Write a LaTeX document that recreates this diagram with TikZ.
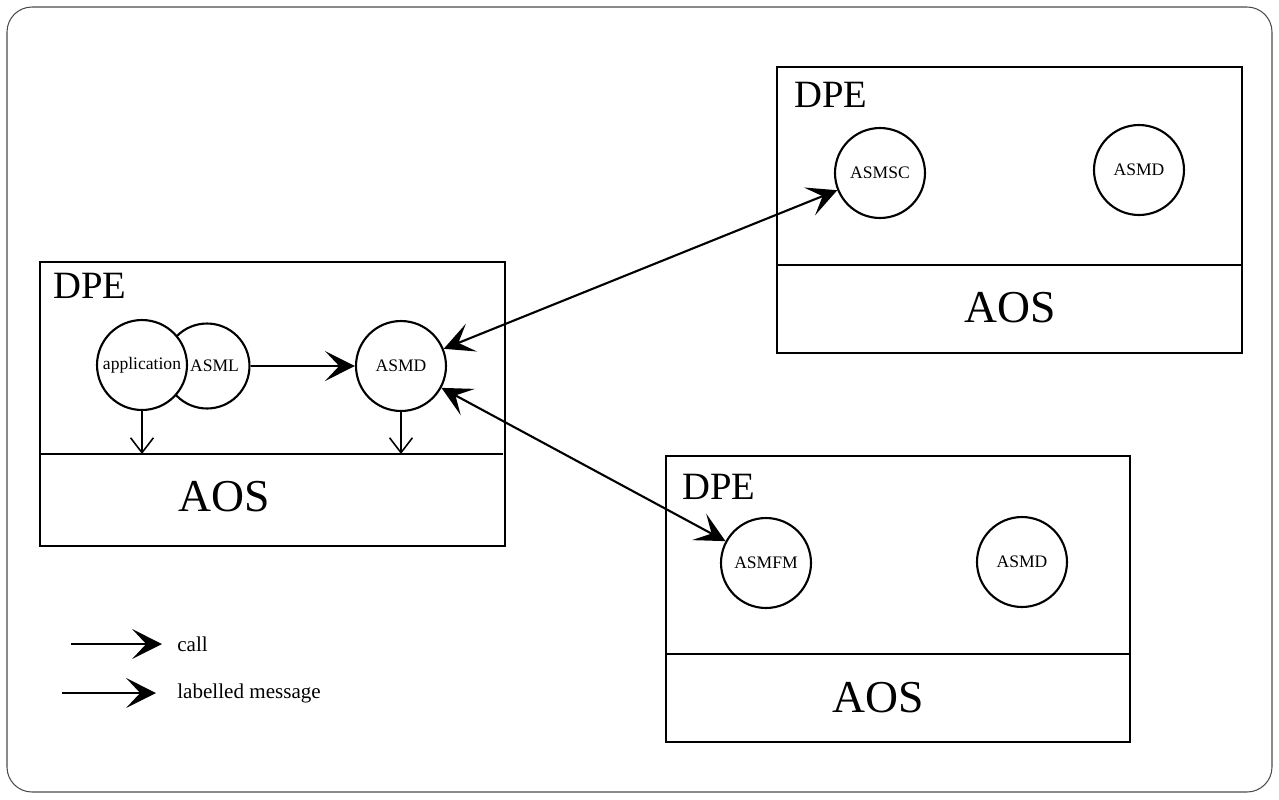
\documentclass[tikz,border=0pt]{standalone}
\usepackage{fontspec}
\setmainfont{Liberation Serif}
\usepackage{tikz}
\usetikzlibrary{arrows.meta,positioning,calc}

\begin{document}
\begin{tikzpicture}[x=0.02cm,y=-0.02cm,
  proc/.style={draw,circle,line width=1.2pt,minimum size=1.8cm,inner sep=0pt,fill=white,font=\fontsize{10}{12}\selectfont},
  dpe/.style={inner sep=0pt,anchor=base west,font=\fontsize{22}{24}\selectfont},
  aos/.style={inner sep=0pt,anchor=base,font=\fontsize{26}{28}\selectfont},
  legtxt/.style={inner sep=0pt,anchor=west,font=\fontsize{12}{14}\selectfont},
  box/.style={line width=1.1pt},
  msg/.style={line width=1.2pt,-{Stealth[length=17pt,width=17pt,inset=8pt]}},
  dmsg/.style={line width=1.2pt,{Stealth[length=17pt,width=17pt,inset=8pt]}-{Stealth[length=17pt,width=17pt,inset=8pt]}},
  down/.style={line width=0.9pt,-{Straight Barb[length=8.5pt,width=13pt]}}]
\useasboundingbox (0,0) rectangle (1279,799);
\draw[gray!60!black,line width=0.6pt,rounded corners=0.5cm] (7,7) rectangle (1272,792);
\pgfmathsetmacro{\breite}{465}
\pgfmathsetmacro{\hoehe}{284}
\draw[box] (40,262) rectangle ++ (\breite,\hoehe);
\draw[box] (40,454) -- (503,454);
\coordinate (divL) at (40,454);
\node[dpe] (dpeL) at (53,298) {DPE};
\node[aos] (aosL) at (224,511) {AOS};
\draw[box] (777,67) rectangle ++ (\breite,286);
\draw[box] (777,265) -- (1242,265);
\node[dpe] (dpeT) at (794,107) {DPE};
\node[aos] (aosT) at (1010,322) {AOS};
\draw[box] (666,456) rectangle ++ (464,\hoehe+2);
\draw[box] (666,654) -- (1130,654);
\node[dpe] (dpeB) at (682,499) {DPE};
\node[aos] (aosB) at (878,712) {AOS};
\node[proc,minimum size=1.7cm] (asml) at (207,366) {\hspace*{0.3cm}ASML};
\node[proc] (app) at (142,365) {application};
\node[proc] (asmdL) at (401,366) {ASMD};
\node[proc] (asmsc) at (880,173) {ASMSC};
\node[proc] (asmdT) at (1139,170) {ASMD};
\node[proc] (asmfm) at (766,563) {ASMFM};
\node[proc] (asmdB) at (1022,562) {ASMD};
\draw[msg] (asml) -- (asmdL);
\draw[down] (app) -- (app |- divL);
\draw[down] (asmdL) -- (asmdL |- divL);
\draw[dmsg] (asmdL) -- (asmsc);
\draw[dmsg] (asmdL) -- (asmfm);
\node[legtxt] (call) at (177,644) {call};
\node[legtxt] (lmsg) at (177,693) {labelled message};
\coordinate (callA) at (71,644);
\coordinate (callB) at (162,644);
\coordinate (lmsgA) at (62,693);
\coordinate (lmsgB) at (156,693);
\draw[msg] (callA) -- (callB);
\draw[msg] (lmsgA) -- (lmsgB);
\end{tikzpicture}
\end{document}
